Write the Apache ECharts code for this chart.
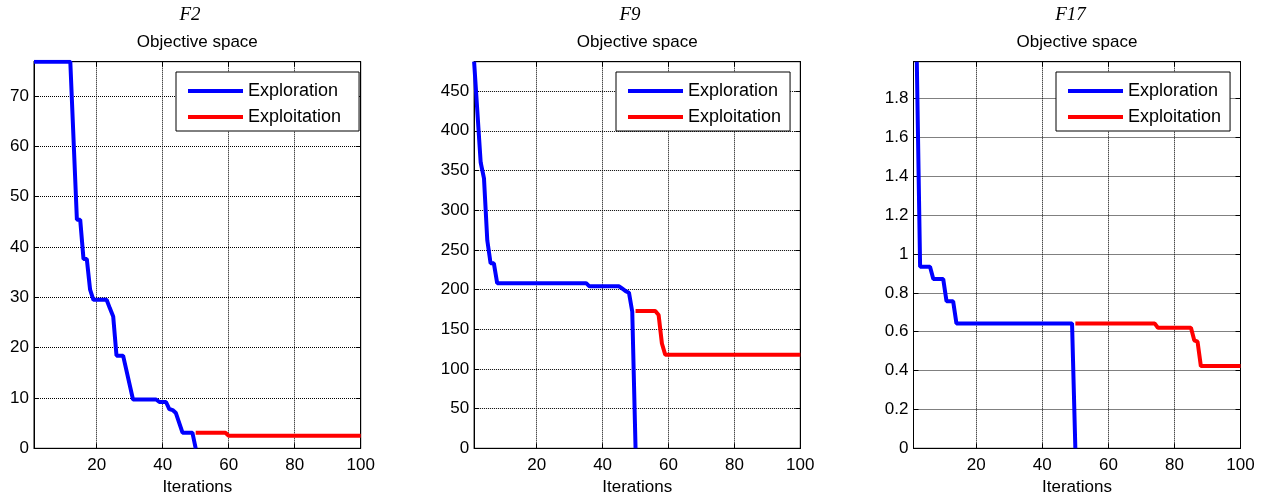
<!DOCTYPE html>
<html>
<head>
<meta charset="utf-8">
<title>Objective space</title>
<script src="https://cdn.jsdelivr.net/npm/echarts@6/dist/echarts.min.js"></script>
<style>
  html, body { margin: 0; padding: 0; background: #fff; }
  #chart { width: 1273px; height: 503px; }
</style>
</head>
<body>
<div id="chart"></div>
<script>
// Iteration ticks shared by the three panels
const iterTicks = [20, 40, 60, 80, 100];

// F2
const f2YTicks = [0, 10, 20, 30, 40, 50, 60, 70];
const f2ExploreIter = [1, 12, 14, 15, 16, 17, 18, 19, 23, 24, 25, 26, 28, 31, 38, 39, 41, 42, 43, 44, 46, 49, 50];
const f2ExploreVal  = [76.8, 76.8, 45.4, 45.4, 37.6, 37.6, 31.5, 29.5, 29.5, 27.8, 26.2, 18.4, 18.4, 9.7, 9.7, 9.2, 9.2, 7.8, 7.6, 7.0, 3.1, 3.1, 0];
const f2ExploitIter = [50, 59, 60, 100];
const f2ExploitVal  = [3.1, 3.1, 2.5, 2.5];

// F9
const f9YTicks = [0, 50, 100, 150, 200, 250, 300, 350, 400, 450];
const f9ExploreIter = [1, 3, 4, 5, 6, 7, 8, 35, 36, 45, 46, 47, 48, 49, 50];
const f9ExploreVal  = [487, 360, 340, 262, 233, 233, 208, 208, 204, 204, 201, 198, 196, 172, 0];
const f9ExploitIter = [50, 56, 57, 58, 59, 100];
const f9ExploitVal  = [173, 173, 168, 132, 118, 118];

// F17
const f17YTicks = [0, 0.2, 0.4, 0.6, 0.8, 1, 1.2, 1.4, 1.6, 1.8];
const f17ExploreIter = [2, 3, 6, 7, 10, 11, 13, 14, 49, 50];
const f17ExploreVal  = [1.99, 0.935, 0.935, 0.871, 0.871, 0.757, 0.757, 0.643, 0.643, 0];
const f17ExploitIter = [50, 74, 75, 85, 86, 87, 88, 100];
const f17ExploitVal  = [0.643, 0.643, 0.621, 0.621, 0.556, 0.549, 0.423, 0.423];

const panelNames = ['F2', 'F9', 'F17'];
const seriesNames = ['Exploration', 'Exploitation'];

const SANS = '"Liberation Sans", Arial, Helvetica, sans-serif';
const SERIF = '"Liberation Serif", "Times New Roman", serif';

const panels = [
  { left: 34,    width: 326.7, yMax: 76.8, yTicks: f2YTicks,
    explore: [f2ExploreIter, f2ExploreVal], exploit: [f2ExploitIter, f2ExploitVal],
    fx: 190, legendLeft: 176, legendPadRight: 18 },
  { left: 474.1, width: 326.2, yMax: 487, yTicks: f9YTicks,
    explore: [f9ExploreIter, f9ExploreVal], exploit: [f9ExploitIter, f9ExploitVal],
    fx: 630, legendLeft: 616, legendPadRight: 9 },
  { left: 913.5, width: 327,   yMax: 1.99, yTicks: f17YTicks,
    explore: [f17ExploreIter, f17ExploreVal], exploit: [f17ExploitIter, f17ExploitVal],
    fx: 1070.5, legendLeft: 1056, legendPadRight: 9 }
];

const TOP = 61.7, HEIGHT = 386.6;
const pairs = (xs, ys) => xs.map((x, i) => [x, ys[i]]);

const grid = [], xAxis = [], yAxis = [], series = [], legend = [], graphic = [];

panels.forEach((p, g) => {
  grid.push({
    left: p.left, top: TOP, width: p.width, height: HEIGHT,
    show: true, borderColor: '#000', borderWidth: 1, backgroundColor: '#fff'
  });

  const tickStyle = { color: '#000', width: 1 };
  const gridLine = { show: true, lineStyle: { color: '#000', width: 1, type: [1, 1] } };

  // bottom axis with labels and grid lines
  xAxis.push({
    type: 'value', gridIndex: g, min: 1, max: 100, position: 'bottom',
    name: 'Iterations', nameLocation: 'middle', nameGap: 31,
    nameTextStyle: { fontSize: 17, color: '#000', fontFamily: SANS },
    axisLine: { show: true, onZero: false, lineStyle: tickStyle },
    axisTick: { show: true, inside: true, length: 5, customValues: iterTicks, lineStyle: tickStyle },
    axisLabel: { show: true, customValues: iterTicks, margin: 9, fontSize: 17, color: '#000', fontFamily: SANS },
    splitLine: gridLine
  });
  // top axis: tick marks only
  xAxis.push({
    type: 'value', gridIndex: g, min: 1, max: 100, position: 'top',
    axisLine: { show: true, onZero: false, lineStyle: tickStyle },
    axisTick: { show: true, inside: true, length: 5, customValues: iterTicks, lineStyle: tickStyle },
    axisLabel: { show: false },
    splitLine: { show: false }
  });
  // left axis with labels and grid lines
  yAxis.push({
    type: 'value', gridIndex: g, min: 0, max: p.yMax, position: 'left',
    axisLine: { show: true, onZero: false, lineStyle: tickStyle },
    axisTick: { show: true, inside: true, length: 5, customValues: p.yTicks, lineStyle: tickStyle },
    axisLabel: { show: true, customValues: p.yTicks, margin: 5, fontSize: 17, color: '#000', fontFamily: SANS },
    splitLine: gridLine
  });
  // right axis: tick marks only
  yAxis.push({
    type: 'value', gridIndex: g, min: 0, max: p.yMax, position: 'right',
    axisLine: { show: true, onZero: false, lineStyle: tickStyle },
    axisTick: { show: true, inside: true, length: 5, customValues: p.yTicks, lineStyle: tickStyle },
    axisLabel: { show: false },
    splitLine: { show: false }
  });

  const lines = [
    { name: seriesNames[0], color: '#0000ff', d: p.explore },
    { name: seriesNames[1], color: '#ff0000', d: p.exploit }
  ];
  lines.forEach(l => {
    series.push({
      type: 'line', name: l.name, xAxisIndex: 2 * g, yAxisIndex: 2 * g,
      data: pairs(l.d[0], l.d[1]),
      symbol: 'none', showSymbol: false, clip: true,
      lineStyle: { color: l.color, width: 4 },
      itemStyle: { color: l.color },
      emphasis: { disabled: true }
    });
  });

  legend.push({
    left: p.legendLeft, top: 72, orient: 'vertical',
    icon: 'rect', itemWidth: 55, itemHeight: 4, itemGap: 8,
    padding: [10, p.legendPadRight, 5, 12],
    borderColor: '#000', borderWidth: 1, backgroundColor: '#fff',
    textStyle: { fontSize: 18, lineHeight: 18, color: '#000', fontFamily: SANS },
    data: seriesNames, selectedMode: false
  });

  const cx = p.left + p.width / 2;
  graphic.push({
    type: 'text', x: p.fx, y: 14.5,
    style: { text: panelNames[g], font: 'italic 19px ' + SERIF, fill: '#000', align: 'center', verticalAlign: 'middle' }
  });
  graphic.push({
    type: 'text', x: cx, y: 42.5,
    style: { text: 'Objective space', font: '17px ' + SANS, fill: '#000', align: 'center', verticalAlign: 'middle' }
  });
});

const chart = echarts.init(document.getElementById('chart'), null, { renderer: 'canvas' });
chart.setOption({
  backgroundColor: '#fff',
  animation: false,
  grid, xAxis, yAxis, series, legend, graphic
});
</script>
</body>
</html>
